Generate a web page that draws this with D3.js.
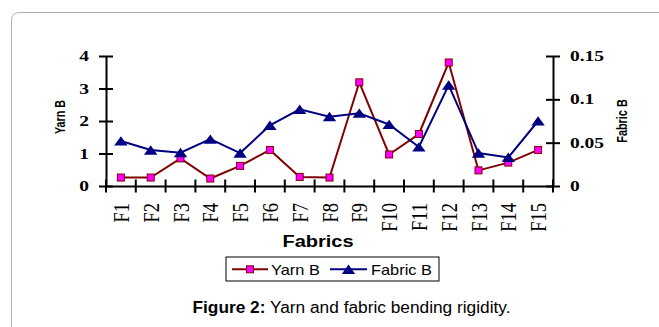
<!DOCTYPE html>
<html><head><meta charset="utf-8">
<script src="https://cdn.jsdelivr.net/npm/d3@7"></script>
<style>html,body{margin:0;padding:0;background:#fff;}svg{display:block;}</style>
</head><body>
<script>
const categories = ["F1","F2","F3","F4","F5","F6","F7","F8","F9","F10","F11","F12","F13","F14","F15"];
const yarnB   = [0.26,0.26,0.85,0.23,0.62,1.11,0.28,0.26,3.19,0.97,1.60,3.80,0.48,0.72,1.11];
const fabricB = [0.052,0.0415,0.0385,0.054,0.038,0.070,0.0885,0.080,0.084,0.071,0.045,0.1165,0.038,0.033,0.075];
const leftTicks = [0,1,2,3,4];
const rightTicks = [0,0.05,0.1,0.15];

(function(){
const W = 659, H = 327;
const svg = d3.select("body").append("svg").attr("width", W).attr("height", H);

// outer frame
svg.append("rect").attr("x", 11.5).attr("y", 12.5).attr("width", 700).attr("height", 400)
  .attr("rx", 7).attr("fill", "none").attr("stroke", "#b0b0b0").attr("stroke-width", 1);

const pL = 106, pR = 553, pT = 56, pB = 186;
const sx = 1.3;
const x = d3.scaleBand().domain(categories).range([pL, pR]);
const yL = d3.scaleLinear().domain([0, 4]).range([pB, pT]);
const yR = d3.scaleLinear().domain([0, 0.15]).range([pB, pT]);

const serif = "'Liberation Serif', 'Times New Roman', serif";
const sans = "'Liberation Sans', Arial, sans-serif";

// Left axis
const gL = svg.append("g").attr("transform", `translate(${pL},0)`)
  .call(d3.axisLeft(yL).tickValues(leftTicks).tickSizeInner(7).tickSizeOuter(0).tickFormat(""));
gL.selectAll("line").attr("x2", 7).attr("x1", -7);
leftTicks.forEach(t => {
  svg.append("text").attr("transform", `translate(89,${yL(t) + 5}) scale(${sx},1)`)
    .attr("text-anchor", "end").attr("font-family", serif).attr("font-weight", "bold")
    .attr("font-size", 15).text(d3.format("d")(t));
});

// Right axis
const gR = svg.append("g").attr("transform", `translate(${pR},0)`)
  .call(d3.axisRight(yR).tickValues(rightTicks).tickSizeInner(7).tickSizeOuter(0).tickFormat(""));
gR.selectAll("line").attr("x1", -7).attr("x2", 7);
const rfmt = v => v === 0 ? "0" : String(+v.toFixed(2));
rightTicks.forEach(t => {
  svg.append("text").attr("transform", `translate(570,${yR(t) + 5}) scale(${sx},1)`)
    .attr("text-anchor", "start").attr("font-family", serif).attr("font-weight", "bold")
    .attr("font-size", 15).text(rfmt(t));
});

// X axis
const bounds = d3.range(categories.length + 1).map(i => pL + i * x.step());
const gX = svg.append("g").attr("transform", `translate(0,${pB})`)
  .call(d3.axisBottom(x).tickSize(0).tickFormat(""));
gX.selectAll(".tick").remove();
gX.selectAll(".bt").data(bounds).enter().append("line")
  .attr("x1", d => d).attr("x2", d => d).attr("y1", -6.5).attr("y2", 6.5);

[gL, gR, gX].forEach(g => {
  g.selectAll("path.domain").attr("stroke", "#000").attr("stroke-width", 2);
  g.selectAll("line").attr("stroke", "#000").attr("stroke-width", 2);
});

categories.forEach(c => {
  const cx = x(c) + x.bandwidth() / 2;
  svg.append("text").attr("transform", `translate(${cx + 8},203) scale(${sx},1) rotate(-90)`)
    .attr("text-anchor", "end").attr("font-family", serif).attr("font-size", 18.5).text(c);
});

// Axis titles
svg.append("text").attr("transform", `translate(318,247) scale(1.25,1)`)
  .attr("text-anchor", "middle").attr("font-family", sans).attr("font-weight", "bold")
  .attr("font-size", 16).text("Fabrics");
svg.append("text").attr("transform", `translate(64.5,117) scale(${sx},1) rotate(-90)`)
  .attr("text-anchor", "middle").attr("font-family", sans).attr("font-weight", "bold")
  .attr("font-size", 10.8).text("Yarn B");
svg.append("text").attr("transform", `translate(627,121) scale(${sx},1) rotate(-90)`)
  .attr("text-anchor", "middle").attr("font-family", sans).attr("font-weight", "bold")
  .attr("font-size", 10.9).text("Fabric B");

// Series
const cxOf = (d, i) => x(categories[i]) + x.bandwidth() / 2;
const yarnColor = "#800000", fabColor = "#000080";
svg.append("path").datum(yarnB)
  .attr("d", d3.line().x(cxOf).y(d => yL(d)))
  .attr("fill", "none").attr("stroke", yarnColor).attr("stroke-width", 2);
svg.append("path").datum(fabricB)
  .attr("d", d3.line().x(cxOf).y(d => yR(d)))
  .attr("fill", "none").attr("stroke", fabColor).attr("stroke-width", 2);

const sq = 7;
svg.selectAll(".sq").data(yarnB).enter().append("rect")
  .attr("x", (d, i) => cxOf(d, i) - sq / 2).attr("y", d => yL(d) - sq / 2)
  .attr("width", sq).attr("height", sq)
  .attr("fill", "#ff00ff").attr("stroke", yarnColor).attr("stroke-width", 1);
const tri = "M0,-4.8L6.7,4.6L-6.7,4.6Z";
svg.selectAll(".tri").data(fabricB).enter().append("path")
  .attr("d", tri).attr("transform", (d, i) => `translate(${cxOf(d, i)},${yR(d)})`)
  .attr("fill", fabColor);

// Legend
const lg = svg.append("g");
lg.append("rect").attr("x", 226).attr("y", 257).attr("width", 213).attr("height", 24)
  .attr("fill", "#fff").attr("stroke", "#000").attr("stroke-width", 1);
const ly = 269.3;
lg.append("line").attr("x1", 232).attr("x2", 268).attr("y1", ly).attr("y2", ly)
  .attr("stroke", yarnColor).attr("stroke-width", 2);
lg.append("rect").attr("x", 250 - sq / 2).attr("y", ly - sq / 2).attr("width", sq).attr("height", sq)
  .attr("fill", "#ff00ff").attr("stroke", yarnColor).attr("stroke-width", 1);
lg.append("text").attr("transform", `translate(271,${ly + 5.3}) scale(1.17,1)`)
  .attr("font-family", sans).attr("font-size", 14).text("Yarn B");
lg.append("line").attr("x1", 330).attr("x2", 367).attr("y1", ly).attr("y2", ly)
  .attr("stroke", fabColor).attr("stroke-width", 2);
lg.append("path").attr("d", tri).attr("transform", `translate(348.5,${ly})`).attr("fill", fabColor);
lg.append("text").attr("transform", `translate(371,${ly + 5.3}) scale(1.17,1)`)
  .attr("font-family", sans).attr("font-size", 14).text("Fabric B");

// Caption
const cap = svg.append("text").attr("x", 351.5).attr("y", 312.5).attr("text-anchor", "middle")
  .attr("font-family", sans).attr("font-size", 17.3);
cap.append("tspan").attr("font-weight", "bold").text("Figure 2:");
cap.append("tspan").text(" Yarn and fabric bending rigidity.");
})();
</script>
</body></html>
